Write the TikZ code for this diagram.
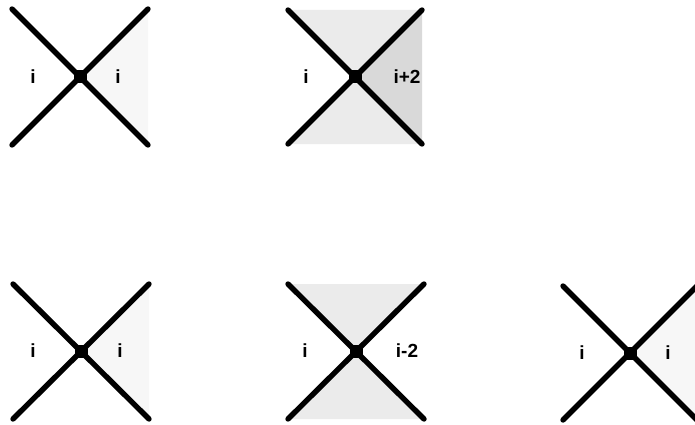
\documentclass[tikz,border=0pt]{standalone}
\usepackage{fontspec}
\setmainfont{Liberation Sans}
\usetikzlibrary{positioning,calc}
\definecolor{wedgefaint}{gray}{0.97}
\definecolor{wedgelight}{gray}{0.92}
\definecolor{wedgedark}{gray}{0.85}

\begin{document}
\begin{tikzpicture}[x=1pt,y=-1pt,
  strand/.style={line width=5.4pt,line cap=round},
  vertex/.style={fill=black,minimum size=13pt,inner sep=0pt},
  lab/.style={font=\fontsize{19}{20}\selectfont\bfseries,inner sep=0pt}]
\useasboundingbox (0,0) rectangle (695,425);
% corners of the five crossings
\coordinate (anw) at (12,9);   \coordinate (ane) at (148,9);   \coordinate (asw) at (12,145);  \coordinate (ase) at (148,145);
\coordinate (bnw) at (288,10); \coordinate (bne) at (422,10);  \coordinate (bsw) at (288,144); \coordinate (bse) at (422,144);
\coordinate (cnw) at (13,284); \coordinate (cne) at (149,284); \coordinate (csw) at (13,419);  \coordinate (cse) at (149,419);
\coordinate (dnw) at (288,284);\coordinate (dne) at (424,284); \coordinate (dsw) at (288,419); \coordinate (dse) at (424,419);
\coordinate (enw) at (563,286);\coordinate (ene) at (697,286); \coordinate (esw) at (563,420); \coordinate (ese) at (697,420);
% shaded wedges
\fill[wedgefaint] (ane) -- (80,77) -- (ase) -- cycle;
\fill[wedgelight] (bnw) -- (bne) -- (355,77) -- cycle;
\fill[wedgelight] (bsw) -- (bse) -- (355,77) -- cycle;
\fill[wedgedark] (bne) -- (bse) -- (355,77) -- cycle;
\fill[wedgefaint] (cne) -- (81,351) -- (cse) -- cycle;
\fill[wedgelight] (dnw) -- (dne) -- (356,351) -- cycle;
\fill[wedgelight] (dsw) -- (dse) -- (356,351) -- cycle;
\fill[wedgefaint] (ene) -- (630,353) -- (ese) -- cycle;
% strands
\draw[strand] (anw) -- (ase); \draw[strand] (asw) -- (ane);
\draw[strand] (bnw) -- (bse); \draw[strand] (bsw) -- (bne);
\draw[strand] (cnw) -- (cse); \draw[strand] (csw) -- (cne);
\draw[strand] (dnw) -- (dse); \draw[strand] (dsw) -- (dne);
\draw[strand] (enw) -- (ese); \draw[strand] (esw) -- (ene);
% vertices
\node[vertex] (a) at (80,77) {};
\node[vertex] (b) at (355,77) {};
\node[vertex] (c) at (81,351) {};
\node[vertex] (d) at (356,351) {};
\node[vertex] (e) at (630,353) {};
% labels
\node[lab] (al) at (33,77) {i};   \node[lab] (ar) at (118,77) {i};
\node[lab] (bl) at (306,77) {i};  \node[lab] (br) at (407,77) {i+2};
\node[lab] (cl) at (33,351) {i};  \node[lab] (cr) at (120,351) {i};
\node[lab] (dl) at (305,351) {i}; \node[lab] (dr) at (407,351) {i-2};
\node[lab] (el) at (582,353) {i}; \node[lab] (er) at (668,353) {i};
\end{tikzpicture}
\end{document}
